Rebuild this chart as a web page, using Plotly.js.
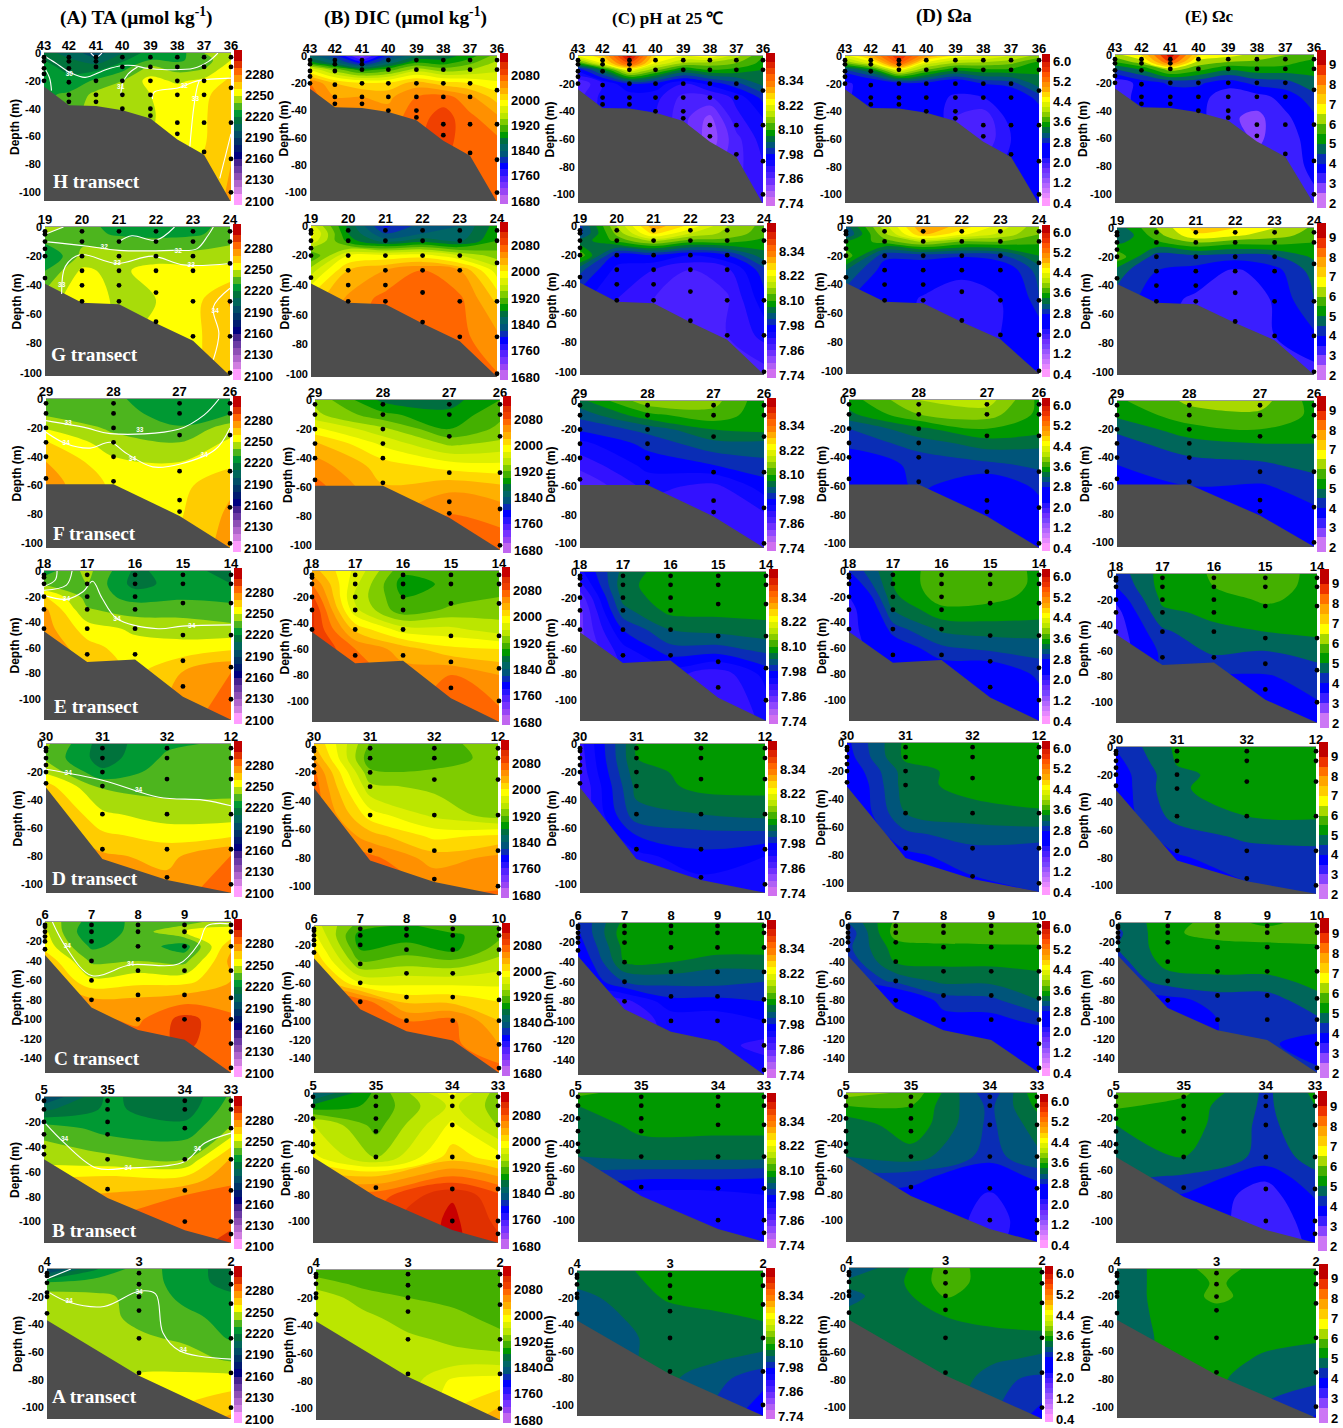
<!DOCTYPE html>
<html><head><meta charset="utf-8">
<script src="https://cdn.plot.ly/plotly-3.0.1.min.js"></script>
<style>html,body{margin:0;padding:0;background:#fff}</style></head>
<body><div id="chart" style="width:1343px;height:1428px"></div>
<script>
// ---------- titles and scales ----------
const columnTitles=['(A) TA (μmol kg<sup>-1</sup>)','(B) DIC (μmol kg<sup>-1</sup>)','(C) pH at 25 ℃','(D) Ωa','(E) Ωc'];
const taTicks=[2100,2130,2160,2190,2220,2250,2280];
const dicTicks=[1680,1760,1840,1920,2000,2080];
const phTicks=['7.74','7.86','7.98','8.10','8.22','8.34'];
const omaTicks=['0.4','1.2','2.0','2.8','3.6','4.4','5.2','6.0'];
const omcTicks=[2,3,4,5,6,7,8,9];
const taColors=['#FF9CFF','#D07EE0','#B066CC','#8E4FB5','#6B3AA5','#45228F','#000080','#001A70','#003366','#004D66','#00665A','#00733C','#009933','#4DB51E','#A8DC0A','#FFFF00','#FFCC00','#FF9900','#FF6600','#E03300','#C00000'];
const dicColors=['#C066F0','#9944F5','#7733FF','#5522FF','#2A14FF','#0000FF','#0A2DB5','#00557A','#006666','#006E40','#009900','#44B000','#7FCC00','#BBE600','#DDF000','#FFFF00','#FFD800','#FFB000','#FF9000','#FF6600','#F04000','#E03000','#C80000'];
const phColors=['#D070F0','#B060F5','#9048FF','#6E30FF','#4A20FF','#3311FF','#1008FF','#0000FF','#0A2DB5','#00557A','#006E40','#009900','#44B000','#88CC00','#BBE600','#DDF000','#FFFF00','#FFD800','#FFAA00','#FF8000','#FF6600','#EE4400','#DD2200','#C00000'];
const omaColors=['#FF99FF','#E688FF','#CC77FF','#B366FF','#9955FF','#7744FF','#6E30FF','#4A20FF','#2A14FF','#0000FF','#0000FF','#0000FF','#0A2DB5','#00557A','#006E40','#009900','#44B000','#88CC00','#BBE600','#DDF000','#FFFF00','#FFD800','#FFAA00','#FF9000','#FF7000','#FF5500','#EE3300','#DD2200','#C00000'];
const omcColors=['#CC77F5','#8844FF','#3A1EFF','#0000FF','#0A2DB5','#00665A','#009900','#44B000','#A8D800','#FFFF00','#FFCC00','#FFA500','#FF7000','#EE3300','#C00000'];

// ---------- H transect ----------
const stationsH=['43','42','41','40','39','38','37','36'];
const distH=[0,.133,.278,.419,.569,.713,.856,1];
const depthH=[0,-5,-10,-20,-30,-45,-60,-80,-106];
const bottomH=[-24,-37.5,-38,-41,-47,-62,-73,-106];
const samplesH=[[-3,-6,-11,-15,-20],[-3,-6,-11,-21,-30,-35],[-3,-6,-10,-20,-30,-35],[-3,-10,-20,-30,-40],[-3,-10,-20,-30,-40,-45],[-3,-10,-20,-30,-50,-58],[-3,-10,-20,-30,-50,-71],[-3,-10,-25,-50,-76,-100]];
const taH=[[2215,2205,2195,2210,2225,2225,2240,2246],[2220,2212,2203,2218,2230,2228,2235,2250],[2222,2218,2215,2225,2242,2235,2238,2256],[2225,2222,2232,2240,2254,2248,2253,2262],[2228,2232,2243,2245,2250,2257,2258,2266],[2230,2236,2245,2247,2248,2258,2259,2267],[2232,2238,2246,2248,2250,2258,2259,2268],[2234,2240,2246,2248,2252,2258,2261,2270],[2236,2240,2246,2248,2252,2258,2262,2273]];
const dicH=[[1850,1810,1730,1810,1860,1870,1890,1930],[1890,1850,1790,1850,1900,1890,1915,1945],[1980,1930,1890,1910,1950,1930,1940,1955],[2060,2020,2005,2005,2030,2010,2000,1985],[2070,2040,2040,2035,2060,2070,2045,2010],[2070,2042,2045,2050,2070,2090,2065,2045],[2070,2045,2048,2055,2075,2090,2066,2062],[2070,2045,2048,2055,2075,2080,2066,2066],[2070,2045,2048,2055,2075,2080,2066,2068]];
const phH=[[8.22,8.27,8.45,8.25,8.22,8.24,8.17,8.10],[8.10,8.23,8.38,8.22,8.16,8.15,8.13,8.09],[7.96,8.06,8.22,8.14,8.07,8.10,8.09,8.07],[7.86,7.92,7.98,7.97,7.92,7.96,8.00,8.05],[7.88,7.93,7.93,7.93,7.88,7.885,7.93,7.99],[7.88,7.93,7.93,7.92,7.87,7.82,7.91,7.95],[7.88,7.93,7.93,7.92,7.88,7.81,7.88,7.935],[7.88,7.93,7.93,7.92,7.88,7.84,7.88,7.918],[7.88,7.93,7.93,7.92,7.88,7.85,7.89,7.905]];
const omaH=[[4.3,4.9,5.8,5.0,4.5,4.4,4.2,3.9],[3.8,4.3,5.5,4.3,4.0,3.95,3.85,3.5],[3.0,3.4,4.4,3.8,3.45,3.55,3.55,3.45],[2.1,2.45,2.7,2.7,2.5,2.8,2.9,3.3],[2.1,2.5,2.5,2.5,2.1,2.2,2.5,2.9],[2.1,2.5,2.5,2.5,2.0,1.85,2.3,2.6],[2.1,2.5,2.5,2.5,2.2,1.85,2.2,2.45],[2.1,2.5,2.5,2.5,2.3,2.1,2.25,2.35],[2.1,2.5,2.5,2.5,2.3,2.2,2.3,2.3]];
const omcH=[[6.3,7,9.3,7,6.7,6.3,6,5.8],[5.5,6.3,8.6,6.3,6,5.9,5.7,5.3],[4.5,5.1,6.3,5.7,5.1,5.3,5.3,5.1],[3.1,3.7,4.1,4.1,3.7,4.2,4.3,4.9],[3.2,3.7,3.7,3.7,3.2,3.3,3.7,4.3],[3.2,3.7,3.7,3.65,3.1,2.85,3.4,3.9],[3.2,3.7,3.7,3.7,3.3,2.9,3.3,3.7],[3.2,3.7,3.7,3.7,3.4,3.2,3.4,3.55],[3.2,3.7,3.7,3.7,3.4,3.3,3.45,3.45]];
const isoLinesH=[{x:[0,.06,.14,.22,.33,.42,.48,.55,.66,.8,.88,.93],y:[-2,-7,-14,-17.5,-12,-9,-9,-11,-12,-11,-6,0]},{x:[0,.03,.04],y:[-10,-18,-27]},{x:[.41,.42,.45,.5],y:[-31,-22,-15,-10]},{x:[.58,.59,.72,.82,1],y:[-33,-28,-25,-20,-18]},{x:[.78,.80,.82,.83],y:[-67,-40,-24,-20]},{x:[.94,1],y:[-90,-58]},{x:[.25,.28,.31],y:[0,-3,0]}];
const isoTextH={x:[.135,.41,.75,.81],y:[-15,-25,-24,-33],t:['30','31','32','33']};

// ---------- G transect ----------
const stationsG=['19','20','21','22','23','24'];
const distG=[0,.2,.4,.6,.8,1];
const depthG=[0,-5,-10,-20,-30,-50,-75,-102];
const bottomG=[-39,-52,-53,-66,-78,-102];
const samplesG=[[-3,-5,-10,-15,-20,-35],[-3,-10,-20,-30,-40,-51],[-3,-10,-20,-30,-40,-51],[-3,-10,-20,-30,-45,-65],[-3,-10,-20,-30,-51,-75],[-3,-10,-25,-51,-75,-100]];
const taG=[[2245,2235,2225,2222,2225,2235],[2240,2235,2228,2225,2228,2235],[2232,2238,2236,2235,2235,2238],[2218,2243,2243,2243,2243,2246],[2230,2252,2247,2256,2254,2253],[2245,2256,2248,2250,2256,2271],[2248,2256,2248,2252,2258,2266],[2248,2256,2248,2252,2258,2266]];
const dicG=[[1970,1875,1795,1830,1840,1890],[1990,1880,1820,1840,1845,1895],[1975,1890,1850,1870,1855,1900],[1900,1980,1985,1990,1960,1930],[1950,2020,2040,2060,2040,1970],[2010,2045,2068,2075,2065,2015],[2050,2050,2070,2075,2066,2045],[2050,2050,2070,2075,2068,2062]];
const phG=[[8.0,8.16,8.3,8.24,8.16,8.12],[8.0,8.14,8.26,8.19,8.15,8.115],[8.05,8.11,8.17,8.12,8.12,8.09],[8.12,7.97,7.98,7.95,7.98,8.06],[8.02,7.94,7.92,7.89,7.91,8.0],[7.96,7.92,7.89,7.865,7.885,7.97],[7.91,7.91,7.88,7.875,7.89,7.93],[7.91,7.91,7.88,7.88,7.89,7.875]];
const omaG=[[3.1,4.1,5.0,4.7,4.3,3.85],[3.0,3.95,4.8,4.45,4.15,3.8],[3.4,3.7,4.05,3.8,3.8,3.65],[3.75,2.85,2.9,2.85,2.95,3.4],[3.2,2.7,2.55,2.25,2.55,3.1],[2.85,2.5,2.15,2.1,2.2,3.0],[2.7,2.4,2.15,2.1,2.2,2.6],[2.6,2.4,2.2,2.1,2.25,2.15]];
const omcG=[[4.7,6,7.2,7,6.5,5.9],[4.4,5.8,6.9,6.6,6.2,5.8],[4.9,5.4,6,5.7,5.7,5.5],[5.9,4.2,4.3,4.2,4.4,5.1],[4.7,4,3.8,3.4,3.8,4.7],[4.3,3.7,3.4,3.1,3.55,4.5],[4,3.7,3.3,3.1,3.5,3.9],[4,3.7,3.3,3.2,3.4,3.3]];
const isoLinesG=[{x:[0,.1],y:[-5,0]},{x:[0,.22,.4,.69,.82,.88,.91],y:[-10,-13,-16,-16,-15,-6,0]},{x:[.4,.47,.6,.7],y:[-10,-6,-9,0]},{x:[.09,.11,.19,.39,.58,.75,1],y:[-46,-27,-19,-25,-20,-26,-25]},{x:[.91,.94,.91,1],y:[-91,-73,-55,-42]}];
const isoTextG={x:[.32,.72,.39,.79,.09,.92],y:[-14,-17,-25,-26,-40,-58],t:['32','32','33','33','33','34']};

// ---------- F transect ----------
const stationsF=['29','28','27','26'];
const distF=[0,.367,.726,1];
const depthF=[0,-10,-20,-30,-45,-60,-80,-103];
const bottomF=[-59,-59,-81,-103];
const samplesF=[[-3,-10,-20,-30,-40,-55],[-3,-10,-20,-30,-40,-57],[-3,-10,-25,-50,-70,-78],[-3,-10,-25,-50,-75,-100]];
const taF=[[2234,2232,2222,2228],[2238,2235,2224,2229],[2249,2238,2231,2245],[2261,2244,2240,2252],[2271,2253,2251,2258],[2275,2258,2257,2268],[2275,2258,2259,2272],[2275,2258,2262,2274]];
const dicF=[[1935,1875,1872,1900],[1945,1905,1885,1915],[1985,1945,1900,1925],[2025,1975,1935,1945],[2050,2010,1990,1985],[2068,2022,2035,2025],[2070,2035,2062,2055],[2070,2050,2085,2070]];
const phF=[[8.06,8.15,8.14,8.08],[8.02,8.09,8.12,8.08],[7.985,8.02,8.07,8.08],[7.94,7.99,8.03,8.03],[7.90,7.96,7.98,8.0],[7.86,7.93,7.91,7.965],[7.85,7.90,7.905,7.915],[7.85,7.90,7.90,7.91]];
const omaF=[[3.5,4.0,4.1,3.55],[3.35,3.8,3.9,3.55],[3.0,3.35,3.6,3.5],[2.85,3.1,3.3,3.25],[2.65,2.85,2.95,3.05],[2.5,2.85,2.6,2.85],[2.5,2.7,2.6,2.7],[2.5,2.7,2.6,2.65]];
const omcF=[[5.4,6.1,6.2,5.3],[5.1,5.8,5.9,5.4],[4.6,5.3,5.5,5.3],[4.3,4.8,5,5],[4,4.3,4.4,4.7],[3.7,4,3.95,4.2],[3.6,3.8,3.8,3.9],[3.6,3.8,3.8,3.8]];
const isoLinesF=[{x:[0,.22,.35,.72,.86,.94],y:[-15,-20,-24,-21,-11,0]},{x:[0,.11,.24,.35,.43,.58,.73,.92,1],y:[-23,-31,-34,-30,-37,-47,-45,-35,-20]}];
const isoTextF={x:[.12,.51,.11,.47,.86],y:[-17,-22,-31,-42,-39],t:['33','33','34','34','34']};

// ---------- E transect ----------
const stationsE=['18','17','16','15','14'];
const distE=[0,.231,.487,.743,1];
const depthE=[0,-10,-20,-30,-45,-60,-80,-116];
const bottomE=[-47,-71,-69,-98,-116];
const samplesE=[[-3,-5,-10,-20,-30,-45],[-3,-10,-20,-30,-45,-65],[-3,-10,-20,-30,-45,-65],[-3,-10,-25,-50,-70,-90],[-3,-10,-25,-50,-75,-100]];
const taE=[[2225,2243,2218,2225,2215],[2238,2240,2216,2225,2220],[2262,2236,2226,2228,2227],[2273,2241,2235,2236,2233],[2275,2255,2248,2245,2243],[2278,2264,2254,2254,2258],[2280,2270,2258,2271,2281],[2280,2272,2262,2276,2287]];
const dicE=[[2030,1975,1905,1905,1905],[2060,1965,1890,1905,1910],[2085,1955,1900,1910,1920],[2105,1965,1905,1925,1930],[2105,2015,1970,1965,1950],[2105,2060,2030,2005,2000],[2105,2070,2050,2060,2040],[2105,2075,2060,2070,2070]];
const phE=[[7.94,8.05,8.09,8.09,8.09],[7.91,8.06,8.09,8.09,8.09],[7.87,8.05,8.09,8.09,8.09],[7.85,8.03,8.08,8.08,8.08],[7.85,7.98,8.04,8.05,8.06],[7.85,7.94,8.0,8.0,8.02],[7.85,7.91,7.93,7.90,7.96],[7.85,7.91,7.91,7.88,7.93]];
const omaE=[[2.8,3.4,3.75,3.75,3.55],[2.55,3.4,3.75,3.75,3.55],[2.2,3.35,3.7,3.65,3.55],[2.0,3.2,3.55,3.55,3.5],[2.0,2.9,3.25,3.3,3.3],[2.0,2.6,2.95,3.05,3.1],[2.0,2.5,2.6,2.55,2.85],[2.0,2.5,2.5,2.25,2.6]];
const omcE=[[4.2,5.2,5.55,5.9,5.3],[4.0,5.2,5.5,5.8,5.3],[3.6,5.1,5.2,5.6,5.3],[3.3,4.9,5.1,5.3,5.25],[3.2,4.4,4.9,5.0,5.1],[3.2,4.1,4.6,4.5,4.75],[3.2,4.0,3.95,3.95,4.2],[3.2,4.0,3.8,3.8,3.8]];
const isoLinesE=[{x:[0,.06,.07],y:[-12,-7,0]},{x:[0,.12,.15],y:[-15,-11,0]},{x:[0,.12,.21,.26,.31,.39,.61,.74,1],y:[-19,-22,-16,-8,-21,-37,-45,-43,-42]}];
const isoTextE={x:[.12,.39,.79],y:[-22,-38,-43],t:['34','34','34']};

// ---------- D transect ----------
const stationsD=['30','31','32','12'];
const distD=[0,.305,.654,1];
const depthD=[0,-10,-20,-30,-50,-65,-80,-106];
const bottomD=[-31,-82,-97,-106];
const samplesD=[[-3,-5,-10,-15,-20,-28],[-3,-10,-20,-30,-50,-75],[-3,-10,-25,-50,-75,-95],[-3,-10,-25,-50,-75,-100]];
const taD=[[2242,2215,2228,2232],[2238,2215,2232,2233],[2248,2222,2235,2235],[2264,2238,2236,2236],[2275,2252,2245,2245],[2278,2262,2256,2258],[2280,2272,2267,2281],[2282,2278,2275,2286]];
const dicD=[[2020,1918,1912,1930],[2040,1905,1905,1930],[2065,1925,1925,1932],[2072,1945,1935,1935],[2075,1990,1955,1930],[2075,2030,1995,2005],[2075,2066,2030,2045],[2075,2070,2065,2062]];
const phD=[[7.91,8.07,8.08,8.08],[7.905,8.07,8.08,8.08],[7.90,8.06,8.08,8.08],[7.89,8.05,8.08,8.08],[7.89,8.03,8.04,8.05],[7.89,7.98,8.0,8.0],[7.89,7.94,7.97,7.95],[7.89,7.94,7.93,7.93]];
const omaD=[[2.75,3.45,3.5,3.5],[2.7,3.45,3.5,3.5],[2.6,3.3,3.5,3.5],[2.5,3.3,3.5,3.5],[2.5,3.2,3.3,3.38],[2.5,2.95,3.1,3.1],[2.5,2.75,2.9,2.85],[2.5,2.7,2.72,2.8]];
const omcD=[[4.05,5.1,5.2,5.2],[3.85,5.05,5.2,5.2],[3.7,4.9,5.2,5.2],[3.65,4.95,5.2,5.2],[3.65,4.7,5.0,5.05],[3.65,4.2,4.6,4.7],[3.65,3.95,4.2,4.25],[3.65,3.9,3.9,4.1]];
const isoLinesD=[{x:[0,.31,.61,.85,1],y:[-18,-26,-38,-40,-44]}];
const isoTextD={x:[.12,.5],y:[-21,-33],t:['34','34']};

// ---------- C transect ----------
const stationsC=['6','7','8','9','10'];
const distC=[0,.25,.5,.75,1];
const depthC=[0,-10,-25,-40,-60,-80,-100,-125,-155];
const bottomC=[-34,-88,-111,-121,-155];
const samplesC=[[-3,-5,-10,-15,-20,-28],[-3,-10,-20,-40,-60,-80],[-3,-10,-25,-50,-75,-100],[-3,-10,-25,-50,-75,-100],[-3,-10,-25,-50,-78,-100,-125,-150]];
const taC=[[2248,2225,2232,2235,2248],[2252,2220,2235,2250,2252],[2256,2228,2235,2225,2268],[2268,2238,2240,2237,2273],[2275,2252,2256,2256,2270],[2280,2272,2272,2276,2276],[2285,2282,2278,2294,2282],[2285,2285,2285,2292,2284],[2285,2285,2285,2285,2285]];
const dicC=[[1970,1910,1895,1915,1900],[1985,1890,1890,1895,1915],[2005,1900,1910,1895,1930],[2025,1925,1935,1930,1950],[2050,1980,1975,1975,1975],[2090,2075,2015,2015,2000],[2090,2085,2060,2065,2020],[2090,2085,2065,2065,2040],[2090,2085,2065,2065,2070]];
const phC=[[7.98,8.08,8.09,8.09,8.09],[7.975,8.09,8.09,8.09,8.09],[7.96,8.08,8.09,8.09,8.08],[7.94,8.07,8.07,8.05,8.06],[7.94,8.01,8.02,8.02,8.01],[7.9,7.91,7.97,7.97,7.98],[7.9,7.9,7.93,7.93,7.95],[7.9,7.9,7.93,7.93,7.91],[7.9,7.9,7.93,7.93,7.94]];
const omaC=[[3.0,3.65,3.72,3.72,3.72],[2.85,3.7,3.75,3.8,3.7],[2.95,3.5,3.55,3.55,3.58],[2.85,3.42,3.45,3.45,3.45],[2.8,3.05,3.25,3.25,3.35],[2.5,2.4,2.9,2.95,3.2],[2.5,2.5,2.7,2.72,2.88],[2.5,2.5,2.7,2.7,2.55],[2.5,2.5,2.7,2.7,2.75]];
const omcC=[[4.6,5.3,5.7,5.4,5.7],[4.4,5.4,5.7,5.7,5.7],[4.5,5.3,5.3,5.4,5.45],[4.3,5.2,5.2,5.2,5.2],[4.1,4.75,4.9,4.9,5.1],[3.9,3.8,4.2,4.2,4.9],[3.9,3.8,4.0,4.1,4.4],[3.9,3.8,4,4.1,3.7],[3.9,3.8,4,4.1,4.1]];
const isoLinesC=[{x:[.04,.11,.25,.46,.72,.83,.87,1],y:[0,-25,-55,-44,-43,-21,-4,-2]}];
const isoTextC={x:[.12,.46],y:[-25,-44],t:['34','34']};

// ---------- B transect ----------
const stationsB=['5','35','34','33'];
const distB=[0,.34,.753,1];
const depthB=[0,-10,-25,-50,-65,-80,-100,-117];
const bottomB=[-50,-81,-107,-117];
const samplesB=[[-3,-10,-20,-30,-40,-46],[-3,-10,-20,-30,-50,-74],[-3,-10,-25,-50,-75,-100],[-3,-10,-25,-50,-75,-100,-110]];
const taB=[[2190,2222,2212,2232],[2208,2222,2214,2236],[2236,2226,2224,2241],[2246,2243,2240,2272],[2260,2262,2262,2278],[2270,2272,2281,2283],[2280,2282,2284,2288],[2280,2285,2286,2293]];
const dicB=[[1835,1905,1985,1930],[1885,1905,1965,1930],[1965,1912,1985,1937],[1985,1938,2010,1990],[2030,2020,2060,2040],[2070,2070,2118,2085],[2090,2090,2125,2095],[2090,2090,2125,2105]];
const phB=[[8.11,8.08,8.08,8.08],[8.07,8.08,8.08,8.08],[8.05,8.08,8.08,8.08],[8.04,8.05,8.05,8.05],[8.0,7.99,7.99,7.985],[7.96,7.94,7.94,7.95],[7.96,7.93,7.93,7.93],[7.96,7.93,7.93,7.93]];
const omaB=[[3.9,3.75,2.85,3.55],[3.6,3.6,2.95,3.45],[3.25,3.55,2.95,3.3],[3.2,3.3,2.92,3.15],[2.95,2.92,2.55,2.9],[2.75,2.7,2.15,2.55],[2.7,2.6,2.05,2.4],[2.7,2.6,2.05,2.5]];
const omcB=[[5.8,5.6,4.4,5.1],[5.6,5.3,4.4,5.0],[5.0,5.25,4.35,4.9],[4.8,5.0,4.35,4.6],[4.6,4.45,3.6,4.45],[4.2,3.95,3.25,4.05],[4.0,3.9,3.2,3.7],[4.0,3.9,3.2,3.6]];
const isoLinesB=[{x:[0,.11,.28,.45,.75,.86,1],y:[-20,-37,-57,-57,-52,-37,-29]}];
const isoTextB={x:[.11,.45,.82],y:[-34,-57,-42],t:['34','34','34']};

// ---------- A transect ----------
const stationsA=['4','3','2'];
const distA=[0,.5,1];
const gridXA=[0,.25,.5,.75,1];
const depthA=[0,-10,-20,-35,-50,-65,-80,-108];
const bottomA=[-37,-77,-108];
const samplesA=[[-3,-5,-10,-17,-20,-32],[-3,-11,-20,-30,-50,-75],[-3,-11,-25,-50,-75,-100]];
const taA=[[2185,2218,2235,2225,2215],[2232,2235,2236,2225,2216],[2245,2242,2238,2227,2222],[2246,2245,2237,2233,2226],[2246,2246,2242,2238,2229],[2246,2246,2246,2245,2238],[2246,2246,2252,2253,2255],[2246,2246,2252,2264,2272]];
const dicA=[[1910,1910,1910,1910,1910],[1930,1915,1910,1910,1910],[1955,1930,1920,1915,1915],[1950,1948,1930,1925,1915],[1950,1950,1945,1935,1925],[1950,1950,1950,1950,1950],[1950,1950,1950,1985,1990],[1950,1950,1950,2005,2035]];
const phA=[[8.05,8.065,8.085,8.085,8.085],[8.045,8.06,8.08,8.085,8.085],[8.03,8.05,8.075,8.08,8.08],[8.02,8.04,8.055,8.065,8.072],[8.02,8.035,8.05,8.055,8.06],[8.02,8.035,8.05,8.045,8.03],[8.02,8.035,8.045,8.02,7.99],[8.02,8.035,8.04,8.0,7.96]];
const omaA=[[3.05,3.3,3.7,3.5,3.5],[3.25,3.35,3.7,3.5,3.5],[3.15,3.3,3.62,3.5,3.5],[3.25,3.3,3.4,3.45,3.5],[3.25,3.3,3.35,3.35,3.35],[3.25,3.3,3.35,3.25,3.15],[3.25,3.3,3.4,3.05,2.95],[3.25,3.3,3.3,3.0,2.7]];
const omcA=[[4.7,5.2,5.7,5.3,5.3],[4.7,5.2,5.55,5.3,5.3],[4.7,5.2,5.6,5.3,5.3],[4.7,5.15,5.3,5.3,5.3],[4.7,5.1,5.3,5.2,5.05],[4.7,5.1,5.25,4.9,4.85],[4.7,5.1,5.1,4.65,4.6],[4.7,5.1,5.0,4.4,3.95]];
const isoLinesA=[{x:[0,.13],y:[-7,0]},{x:[0,.12,.31,.5,.59,.63,.72,1],y:[-16,-24,-27,-16,-18,-46,-59,-65]}];
const isoTextA={x:[.12,.5,.74],y:[-23,-17,-59],t:['34','34','34']};

// ---------- page layout (pixels) ----------
const W=1343,H=1428;
const frames=[
 [[44,231,53,201],[310,497,56,201],[578,763,56,203],[845,1039,56,203],[1115,1314,55,203]],
 [[45,230,227,376],[311,497,226,377],[580,764,226,375],[846,1039,227,374],[1117,1314,228,375]],
 [[46,230,399,548],[315,500,400,550],[580,764,401,548],[849,1039,400,548],[1117,1314,401,547]],
 [[44,231,571,720],[312,499,571,722],[580,766,572,721],[849,1039,571,721],[1116,1317,574,723]],
 [[46,231,744,893],[314,498,744,895],[580,765,744,893],[847,1039,743,892],[1116,1316,747,894]],
 [[45,231,922,1073],[314,499,926,1073],[578,764,923,1075],[848,1039,923,1073],[1118,1317,923,1073]],
 [[44,231,1097,1243],[313,498,1093,1243],[578,764,1093,1242],[846,1037,1093,1242],[1116,1315,1093,1243]],
 [[47,231,1269,1419],[316,500,1270,1420],[577,763,1271,1416],[849,1042,1268,1419],[1117,1316,1269,1418]]];
const transects=[
 {label:'H transect',lx:96,ly:181,st:stationsH,dist:distH,gx:distH,depth:depthH,bottom:bottomH,samples:samplesH,f:[taH,dicH,phH,omaH,omcH],iso:isoLinesH,txt:isoTextH,tk:[0,-20,-40,-60,-80,-100],cbShift:0},
 {label:'G transect',lx:95,ly:354,st:stationsG,dist:distG,gx:distG,depth:depthG,bottom:bottomG,samples:samplesG,f:[taG,dicG,phG,omaG,omcG],iso:isoLinesG,txt:isoTextG,tk:[0,-20,-40,-60,-80,-100],cbShift:0},
 {label:'F transect',lx:95,ly:533,st:stationsF,dist:distF,gx:distF,depth:depthF,bottom:bottomF,samples:samplesF,f:[taF,dicF,phF,omaF,omcF],iso:isoLinesF,txt:isoTextF,tk:[0,-20,-40,-60,-80,-100],cbShift:0},
 {label:'E transect',lx:96,ly:706,st:stationsE,dist:distE,gx:distE,depth:depthE,bottom:bottomE,samples:samplesE,f:[taE,dicE,phE,omaE,omcE],iso:isoLinesE,txt:isoTextE,tk:[0,-20,-40,-60,-80,-100],cbShift:0},
 {label:'D transect',lx:95,ly:878,st:stationsD,dist:distD,gx:distD,depth:depthD,bottom:bottomD,samples:samplesD,f:[taD,dicD,phD,omaD,omcD],iso:isoLinesD,txt:isoTextD,tk:[0,-20,-40,-60,-80,-100],cbShift:0},
 {label:'C transect',lx:97,ly:1058,st:stationsC,dist:distC,gx:distC,depth:depthC,bottom:bottomC,samples:samplesC,f:[taC,dicC,phC,omaC,omcC],iso:isoLinesC,txt:isoTextC,tk:[0,-20,-40,-60,-80,-100,-120,-140],cbShift:0},
 {label:'B transect',lx:95,ly:1230,st:stationsB,dist:distB,gx:distB,depth:depthB,bottom:bottomB,samples:samplesB,f:[taB,dicB,phB,omaB,omcB],iso:isoLinesB,txt:isoTextB,tk:[0,-20,-40,-60,-80,-100],cbShift:3},
 {label:'A transect',lx:95,ly:1396,st:stationsA,dist:distA,gx:gridXA,depth:depthA,bottom:bottomA,samples:samplesA,f:[taA,dicA,phA,omaA,omcA],iso:isoLinesA,txt:isoTextA,tk:[0,-20,-40,-60,-80,-100],cbShift:0}];
const scales=[
 {colors:taColors,first:2100,step:10,ticks:taTicks,cbw:8},
 {colors:dicColors,first:1680,step:20,ticks:dicTicks,cbw:8},
 {colors:phColors,first:7.74,step:.03,ticks:phTicks,cbw:9},
 {colors:omaColors,first:.4,step:.2,ticks:omaTicks,cbw:8},
 {colors:omcColors,first:2,step:.5,ticks:omcTicks,cbw:9}];
const sans='"Liberation Sans",Arial,sans-serif', narrow='"Liberation Sans Narrow","Liberation Sans",Arial,sans-serif', serif='"Liberation Serif","Times New Roman",serif';

const traces=[],annotations=[];
const layout={width:W,height:H,margin:{l:0,r:0,t:0,b:0},paper_bgcolor:'#fff',plot_bgcolor:'#fff',showlegend:false,hovermode:false,annotations};
const xc=[136,406,667,944,1209], tc=[17,17,19,16,17], ts=[19.4,19.4,17,19,17];
columnTitles.forEach((t,c)=>annotations.push({xref:'paper',yref:'paper',x:xc[c]/W,y:1-tc[c]/H,xanchor:'center',yanchor:'middle',showarrow:false,text:t,font:{family:serif,size:ts[c],color:'#000',weight:700}}));
const titleGap=[29,27,29,27,32];

let n=0;
transects.forEach((tr,r)=>{
  const ymax=Math.abs(tr.bottom[tr.bottom.length-1]);
  annotations.push({xref:'paper',yref:'paper',x:tr.lx/W,y:1-tr.ly/H,xanchor:'center',yanchor:'middle',showarrow:false,text:tr.label,font:{family:serif,size:19.3,color:'#fff',weight:700}});
  scales.forEach((s,c)=>{
    n++;
    const fr=frames[r][c], ax=n===1?'':n, xa='x'+ax, ya='y'+ax;
    layout['xaxis'+ax]={domain:[fr[0]/W,fr[1]/W],anchor:ya,side:'top',range:[0,1],tickmode:'array',tickvals:tr.dist,ticktext:tr.st,ticks:'',ticklabelstandoff:-3,showgrid:false,zeroline:false,showline:true,linecolor:'#999',linewidth:1,tickfont:{family:narrow,size:13,color:'#000',weight:700}};
    layout['yaxis'+ax]={domain:[1-fr[3]/H,1-fr[2]/H],anchor:xa,range:[-ymax-0.2,0],tickmode:'array',tickvals:tr.tk,ticktext:tr.tk.map(String),ticks:'',ticklabelstandoff:2,showgrid:false,zeroline:false,showline:false,tickfont:{family:sans,size:11,color:'#000',weight:700}};
    annotations.push({xref:'paper',yref:'paper',x:(fr[0]-titleGap[c])/W,y:1-((fr[2]+fr[3])/2)/H,xanchor:'center',yanchor:'middle',textangle:-90,showarrow:false,text:'Depth (m)',font:{family:sans,size:12,color:'#000',weight:700}});
    const bands=s.colors.length;
    const pal=[s.colors[0]].concat(s.colors,[s.colors[bands-1]]);
    const nc=pal.length-1;
    const tv=s.ticks.map(Number);
    // the colour bar runs half a step past the first and last contour levels
    const span=fr[3]-fr[2], px=span/bands, over=px/2;
    traces.push({type:'contour',x:tr.gx,y:tr.depth,z:tr.f[c],xaxis:xa,yaxis:ya,autocontour:false,
      contours:{start:s.first,end:s.first+s.step*bands,size:s.step,coloring:'fill',showlines:false},
      line:{width:0,smoothing:1},
      colorscale:pal.map((col,i)=>[i/nc,col]),
      colorbar:{x:(fr[1]+3)/W,xanchor:'left',y:1-(fr[3]+tr.cbShift+over)/H,yanchor:'bottom',len:(span+2*over)/H,lenmode:'fraction',thickness:s.cbw,thicknessmode:'pixels',xpad:0,ypad:0,outlinewidth:0,borderwidth:0,tickmode:'array',tickvals:tv,ticktext:s.ticks.map(String),ticks:'',tickfont:{family:narrow,size:13,color:'#000',weight:700}},
      hoverinfo:'skip'});
    traces.push({type:'scatter',mode:'lines',x:tr.dist.concat([1,0]),y:tr.bottom.concat([-ymax-1,-ymax-1]),xaxis:xa,yaxis:ya,fill:'toself',fillcolor:'#4D4D4D',line:{width:0,color:'#4D4D4D'},hoverinfo:'skip'});
    if(c===0){
      tr.iso.forEach(l=>traces.push({type:'scatter',mode:'lines',x:l.x,y:l.y,xaxis:xa,yaxis:ya,line:{color:'#fff',width:1.1,shape:'spline',smoothing:1},hoverinfo:'skip'}));
      traces.push({type:'scatter',mode:'text',x:tr.txt.x,y:tr.txt.y,text:tr.txt.t,xaxis:xa,yaxis:ya,textposition:'middle center',textfont:{family:sans,size:6.5,color:'#fff',weight:700},hoverinfo:'skip'});
    }
    const dx=[],dy=[];
    tr.samples.forEach((ds,i)=>ds.forEach(d=>{dx.push(tr.dist[i]);dy.push(d);}));
    traces.push({type:'scatter',mode:'markers',x:dx,y:dy,xaxis:xa,yaxis:ya,cliponaxis:false,marker:{color:'#000',size:4.8},hoverinfo:'skip'});
  });
});
Plotly.newPlot('chart',traces,layout,{staticPlot:true,displayModeBar:false});
</script></body></html>
